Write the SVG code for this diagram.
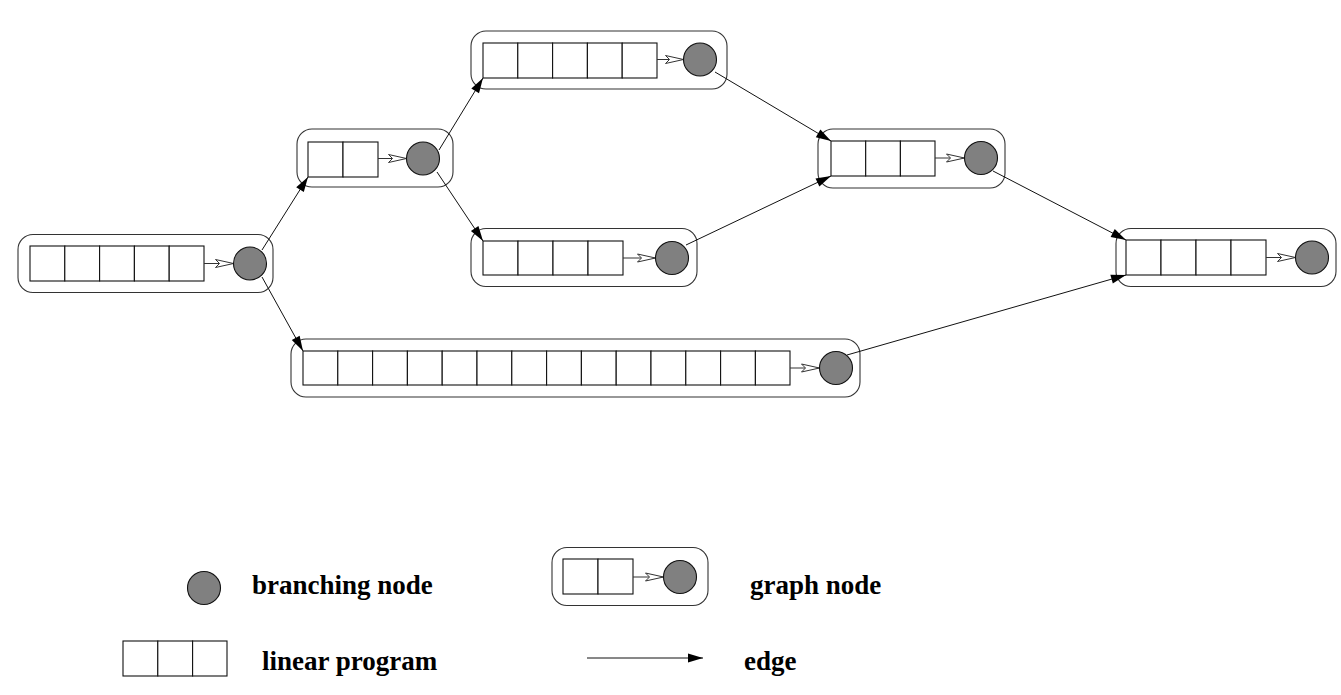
<svg xmlns="http://www.w3.org/2000/svg" width="1341" height="695" viewBox="0 0 1341 695">
<style>
.outer{fill:none;stroke:#333;stroke-width:1.1}
.cell{fill:#fff;stroke:#111;stroke-width:1.1}
.bn{fill:#808080;stroke:#111;stroke-width:1.1}
.inner{stroke:#333;stroke-width:1;fill:none;marker-end:url(#open)}
.edge{stroke:#111;stroke-width:1;fill:none;marker-end:url(#solid)}
.lbl{font-family:"Liberation Serif","Times New Roman",serif;font-weight:bold;font-size:27px;fill:#000}
</style>
<defs>
<marker id="open" markerUnits="userSpaceOnUse" markerWidth="22" markerHeight="12" refX="19" refY="6" orient="auto" overflow="visible">
<path d="M1,2 L19,6 L1,10 L5,6 Z" fill="#fff" stroke="#333" stroke-width="1"/>
</marker>
<marker id="solid" markerUnits="userSpaceOnUse" markerWidth="16" markerHeight="10" refX="15" refY="5" orient="auto" overflow="visible">
<path d="M0,0.5 L15,5 L0,9.5 Z" fill="#000"/>
</marker>
</defs>

<g id="node-A">
<rect class="outer" x="18" y="234.5" width="255" height="58" rx="15"/>
<rect class="cell" x="30" y="246" width="34.8" height="35"/>
<rect class="cell" x="64.8" y="246" width="34.8" height="35"/>
<rect class="cell" x="99.6" y="246" width="34.8" height="35"/>
<rect class="cell" x="134.4" y="246" width="34.8" height="35"/>
<rect class="cell" x="169.2" y="246" width="34.8" height="35"/>
<line class="inner" x1="204" y1="263.5" x2="233.5" y2="263.5"/>
<circle class="bn" cx="250" cy="263.5" r="16.5"/>
</g>

<g id="node-B">
<rect class="outer" x="297" y="129" width="156" height="58" rx="15"/>
<rect class="cell" x="308" y="142" width="35" height="35"/>
<rect class="cell" x="343" y="142" width="35" height="35"/>
<line class="inner" x1="378" y1="158.5" x2="406.5" y2="158.5"/>
<circle class="bn" cx="423" cy="158.5" r="16.5"/>
</g>

<g id="node-C">
<rect class="outer" x="471" y="31" width="256" height="58" rx="15"/>
<rect class="cell" x="483" y="43" width="34.8" height="35"/>
<rect class="cell" x="517.8" y="43" width="34.8" height="35"/>
<rect class="cell" x="552.6" y="43" width="34.8" height="35"/>
<rect class="cell" x="587.4" y="43" width="34.8" height="35"/>
<rect class="cell" x="622.2" y="43" width="34.8" height="35"/>
<line class="inner" x1="657" y1="59.5" x2="683.5" y2="59.5"/>
<circle class="bn" cx="700" cy="59.5" r="16.5"/>
</g>

<g id="node-D">
<rect class="outer" x="818" y="129" width="187" height="59" rx="15"/>
<rect class="cell" x="831" y="141" width="34.7" height="35"/>
<rect class="cell" x="865.7" y="141" width="34.7" height="35"/>
<rect class="cell" x="900.4" y="141" width="34.6" height="35"/>
<line class="inner" x1="935" y1="158" x2="964.5" y2="158"/>
<circle class="bn" cx="981" cy="158" r="16.5"/>
</g>

<g id="node-F">
<rect class="outer" x="471" y="228.5" width="226" height="58" rx="15"/>
<rect class="cell" x="483" y="241" width="35" height="34"/>
<rect class="cell" x="518" y="241" width="35" height="34"/>
<rect class="cell" x="553" y="241" width="35" height="34"/>
<rect class="cell" x="588" y="241" width="35" height="34"/>
<line class="inner" x1="623" y1="258" x2="655.5" y2="258"/>
<circle class="bn" cx="672" cy="258" r="16.5"/>
</g>

<g id="node-E">
<rect class="outer" x="1116" y="228.5" width="220" height="58" rx="15"/>
<rect class="cell" x="1126" y="240" width="35" height="35"/>
<rect class="cell" x="1161" y="240" width="35" height="35"/>
<rect class="cell" x="1196" y="240" width="35" height="35"/>
<rect class="cell" x="1231" y="240" width="35" height="35"/>
<line class="inner" x1="1266" y1="257.5" x2="1295.5" y2="257.5"/>
<circle class="bn" cx="1312" cy="257.5" r="16.5"/>
</g>

<g id="node-G">
<rect class="outer" x="291" y="339" width="569" height="58" rx="15"/>
<rect class="cell" x="303" y="351" width="34.8" height="34"/>
<rect class="cell" x="337.8" y="351" width="34.8" height="34"/>
<rect class="cell" x="372.6" y="351" width="34.8" height="34"/>
<rect class="cell" x="407.4" y="351" width="34.8" height="34"/>
<rect class="cell" x="442.2" y="351" width="34.8" height="34"/>
<rect class="cell" x="477" y="351" width="34.8" height="34"/>
<rect class="cell" x="511.8" y="351" width="34.8" height="34"/>
<rect class="cell" x="546.6" y="351" width="34.8" height="34"/>
<rect class="cell" x="581.4" y="351" width="34.8" height="34"/>
<rect class="cell" x="616.2" y="351" width="34.8" height="34"/>
<rect class="cell" x="651" y="351" width="34.8" height="34"/>
<rect class="cell" x="685.8" y="351" width="34.8" height="34"/>
<rect class="cell" x="720.6" y="351" width="34.8" height="34"/>
<rect class="cell" x="755.4" y="351" width="34.6" height="34"/>
<line class="inner" x1="790" y1="368" x2="819.5" y2="368"/>
<circle class="bn" cx="836" cy="368" r="16.5"/>
</g>

<g id="connectors">
<line class="edge" x1="262" y1="250" x2="308" y2="177"/>
<line class="edge" x1="262" y1="277" x2="303" y2="351"/>
<line class="edge" x1="439" y1="150" x2="483" y2="78"/>
<line class="edge" x1="437" y1="172" x2="483" y2="241"/>
<line class="edge" x1="715" y1="72" x2="831" y2="141"/>
<line class="edge" x1="686" y1="245" x2="831" y2="176"/>
<line class="edge" x1="993" y1="171" x2="1126" y2="240"/>
<line class="edge" x1="847" y1="355" x2="1126" y2="275"/>
</g>

<g id="legend-branching-node">
<circle class="bn" cx="204" cy="588" r="16.5"/>
<text class="lbl" x="252" y="594">branching node</text>
</g>

<g id="legend-linear-program">
<rect class="cell" x="123" y="641" width="34.8" height="35"/>
<rect class="cell" x="157.8" y="641" width="34.8" height="35"/>
<rect class="cell" x="192.6" y="641" width="34.4" height="35"/>
<text class="lbl" x="262" y="670">linear program</text>
</g>

<g id="legend-graph-node">
<rect class="outer" x="552" y="547.5" width="156" height="58" rx="15"/>
<rect class="cell" x="563" y="559" width="35" height="35"/>
<rect class="cell" x="598" y="559" width="35" height="35"/>
<line class="inner" x1="633" y1="577" x2="663.5" y2="577"/>
<circle class="bn" cx="680" cy="577" r="16.5"/>
<text class="lbl" x="750" y="594">graph node</text>
</g>

<g id="legend-edge">
<line class="edge" x1="587" y1="658" x2="703" y2="658"/>
<text class="lbl" x="744" y="670">edge</text>
</g>
</svg>
